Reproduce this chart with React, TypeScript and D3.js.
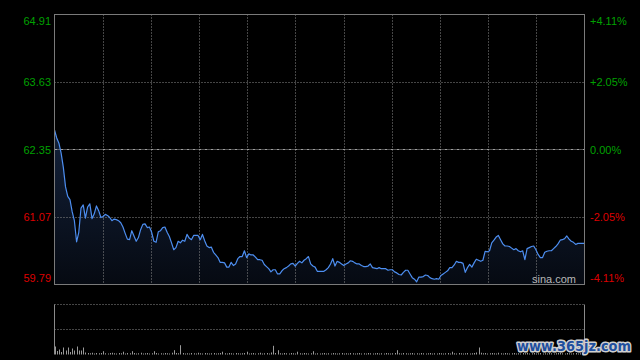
import React from "react";
import * as d3 from "d3";

const prevClose = 62.35;
const priceTicks = [64.91, 63.63, 62.35, 61.07, 59.79];
const pctLabels = ["+4.11%", "+2.05%", "0.00%", "-2.05%", "-4.11%"];

const prices = [
  62.72, 62.57, 62.47, 62.28, 62.01, 61.64, 61.46, 61.40, 61.17, 61.00,
  60.60, 60.78, 61.24, 61.30, 61.05, 61.26, 61.32, 61.04, 61.13, 61.28,
  61.19, 61.06, 61.08, 61.12, 61.10, 61.06, 61.00, 61.03, 61.02, 61.00,
  60.96, 60.88, 60.76, 60.65, 60.64, 60.81, 60.71, 60.61, 60.68, 60.83,
  60.93, 60.94, 60.87, 60.88, 60.78, 60.61, 60.59, 60.79, 60.81, 60.87,
  60.88, 60.78, 60.70, 60.58, 60.45, 60.49, 60.61, 60.58, 60.63, 60.61,
  60.74, 60.67, 60.64, 60.72, 60.72, 60.72, 60.64, 60.74, 60.62, 60.52,
  60.49, 60.50, 60.40, 60.35, 60.30, 60.21, 60.21, 60.20, 60.12, 60.12,
  60.21, 60.15, 60.18, 60.28, 60.32, 60.32, 60.43, 60.30, 60.37, 60.35,
  60.35, 60.31, 60.26, 60.26, 60.25, 60.17, 60.13, 60.09, 60.03, 60.07,
  60.07, 59.99, 59.99, 60.05, 60.09, 60.11, 60.14, 60.18, 60.19, 60.14,
  60.19, 60.23, 60.20, 60.25, 60.28, 60.32, 60.18, 60.14, 60.12, 60.04,
  60.04, 60.04, 60.04, 60.07, 60.11, 60.18, 60.28, 60.14, 60.23, 60.21,
  60.18, 60.15, 60.18, 60.20, 60.24, 60.23, 60.20, 60.18, 60.18, 60.15,
  60.13, 60.13, 60.14, 60.18, 60.11, 60.10, 60.09, 60.11, 60.09, 60.09,
  60.09, 60.06, 60.07, 60.07, 60.03, 60.01, 59.98, 59.97, 60.02, 60.06,
  60.06, 59.99, 59.92, 59.89, 59.84, 59.93, 59.93, 59.94, 59.97, 59.96,
  59.92, 59.90, 59.89, 59.90, 59.89, 59.96, 59.99, 60.02, 60.05, 60.11,
  60.11, 60.16, 60.23, 60.21, 60.21, 60.19, 60.02, 60.11, 60.17, 60.12,
  60.20, 60.27, 60.25, 60.23, 60.25, 60.42, 60.41, 60.43, 60.58, 60.63,
  60.69, 60.72, 60.64, 60.56, 60.52, 60.52, 60.51, 60.48, 60.45, 60.47,
  60.43, 60.41, 60.43, 60.26, 60.47, 60.49, 60.51, 60.52, 60.45, 60.36,
  60.30, 60.30, 60.40, 60.42, 60.43, 60.43, 60.47, 60.51, 60.56, 60.63,
  60.64, 60.66, 60.71, 60.65, 60.61, 60.59, 60.55, 60.57, 60.57, 60.57,
  60.57,
];

const volumes = [
  160, 70, 100, 50, 140, 80, 140, 50, 120, 80,
  160, 80, 80, 140, 40, 30, 25, 35, 20, 30,
  25, 30, 66, 25, 20, 30, 35, 25, 20, 30,
  25, 56, 20, 30, 25, 66, 30, 20, 25, 35,
  20, 25, 30, 20, 25, 66, 30, 20, 25, 20,
  30, 25, 20, 35, 86, 30, 25, 186, 30, 20,
  25, 20, 30, 25, 20, 35, 25, 20, 30, 25,
  20, 25, 30, 20, 25, 30, 56, 25, 20, 30,
  25, 20, 30, 25, 20, 25, 30, 56, 20, 25,
  30, 20, 25, 35, 20, 25, 30, 20, 40, 174,
  30, 86, 25, 20, 30, 25, 20, 30, 25, 20,
  56, 25, 20, 30, 25, 20, 25, 66, 20, 25,
  20, 25, 30, 20, 25, 20, 30, 25, 20, 25,
  30, 20, 25, 20, 30, 25, 20, 25, 30, 20,
  25, 20, 30, 25, 20, 25, 30, 20, 25, 20,
  30, 25, 20, 25, 30, 86, 25, 20, 30, 25,
  20, 25, 30, 20, 25, 20, 30, 25, 20, 25,
  30, 20, 25, 20, 30, 25, 20, 25, 30, 20,
  56, 25, 20, 30, 25, 20, 25, 30, 20, 25,
  30, 40, 140, 35, 25, 30, 20, 25, 30, 25,
  20, 35, 25, 20, 30, 25, 20, 25, 30, 20,
  25, 20, 30, 25, 35, 20, 25, 30, 20, 25,
  30, 20, 25, 20, 30, 25, 20, 25, 30, 35,
  25, 20, 30, 25, 20, 25, 30, 20, 25, 30,
  25,
];

const GREEN = "#00a000";
const RED = "#dd0000";

export default function App() {
  const L = 54.5, R = 584.5, T = 14.5, B = 284.5;
  const VT = 304.5, VB = 354.5;
  const n = prices.length;
  const x = d3.scaleLinear().domain([0, n - 1]).range([L, R]);
  const y = d3.scaleLinear().domain([priceTicks[4], priceTicks[0]]).range([B, T]);
  const yv = d3.scaleLinear().domain([0, 1000]).range([VB, VT]);

  const line = d3.line<number>().x((_, i) => x(i)).y((d) => y(d));
  const area = d3.area<number>().x((_, i) => x(i)).y0(B).y1((d) => y(d));

  const vLines = d3.range(1, 11).map((k) => L + ((R - L) * k) / 11);
  const font = "Arial, 'Liberation Sans', sans-serif";

  return (
    <svg width={640} height={360} style={{ position: "absolute", left: 0, top: 0, display: "block" }}>
      <defs>
        <linearGradient id="fillg" x1="0" y1="0" x2="0" y2="1">
          <stop offset="0%" stopColor="#13213a" />
          <stop offset="100%" stopColor="#060a12" />
        </linearGradient>
      </defs>
      <rect x={0} y={0} width={640} height={360} fill="#000" />
      <path d={area(prices) || ""} fill="url(#fillg)" />
      {vLines.map((vx, i) => (
        <line key={"v" + i} x1={Math.round(vx) + 0.5} x2={Math.round(vx) + 0.5} y1={T} y2={B} stroke="#8a8a8a" strokeDasharray="1,2" />
      ))}
      {priceTicks.slice(1, 4).map((t, i) => (
        <line key={"h" + i} x1={L} x2={R} y1={Math.round(y(t)) + 0.5} y2={Math.round(y(t)) + 0.5}
          stroke={t === prevClose ? "#a0a0a0" : "#8a8a8a"} strokeDasharray={t === prevClose ? "3,1,1,1" : "1,2"} />
      ))}
      <path d={line(prices) || ""} fill="none" stroke="#4d8ef0" strokeWidth={1.2} strokeLinejoin="round" />
      <rect x={L} y={T} width={R - L} height={B - T} fill="none" stroke="#7a7a7a" />
      {priceTicks.map((t, i) => {
        const base = i === 0 ? y(t) + 10 : i === priceTicks.length - 1 ? y(t) - 2.5 : y(t) + 4;
        const c = t >= prevClose ? GREEN : RED;
        return (
          <g key={"l" + i}>
            <text x={51} y={base} textAnchor="end" fontSize={11} fontFamily={font} fill={c}>{t.toFixed(2)}</text>
            <text x={590} y={base} textAnchor="start" fontSize={11} fontFamily={font} fill={c}>{pctLabels[i]}</text>
          </g>
        );
      })}
      <text x={532} y={283} fontSize={11} fontFamily={font} fill="#b8b8b8">sina.com</text>

      {/* volume panel */}
      <line x1={L} x2={R} y1={VT} y2={VT} stroke="#8a8a8a" strokeDasharray="1,2" />
      <line x1={L} x2={R} y1={(VT + VB) / 2} y2={(VT + VB) / 2} stroke="#8a8a8a" strokeDasharray="1,2" />
      <line x1={L} x2={L} y1={VT} y2={VB} stroke="#8a8a8a" />
      <line x1={R} x2={R} y1={VT} y2={VB} stroke="#8a8a8a" />
      {volumes.map((v, i) => (
        <rect key={"b" + i} x={Math.round(x(i))} y={yv(v)} width={1} height={VB - yv(v)} fill="#9a9a9a" />
      ))}
      <text x={517} y={351} fontSize={14} fontWeight="bold" fontFamily="'DejaVu Sans', sans-serif"
        textLength={114} lengthAdjust="spacingAndGlyphs"
        fill="#1f4f9e" stroke="#d0d0d0" strokeWidth={3} paintOrder="stroke" strokeLinejoin="round">www.365jz.com</text>
    </svg>
  );
}
